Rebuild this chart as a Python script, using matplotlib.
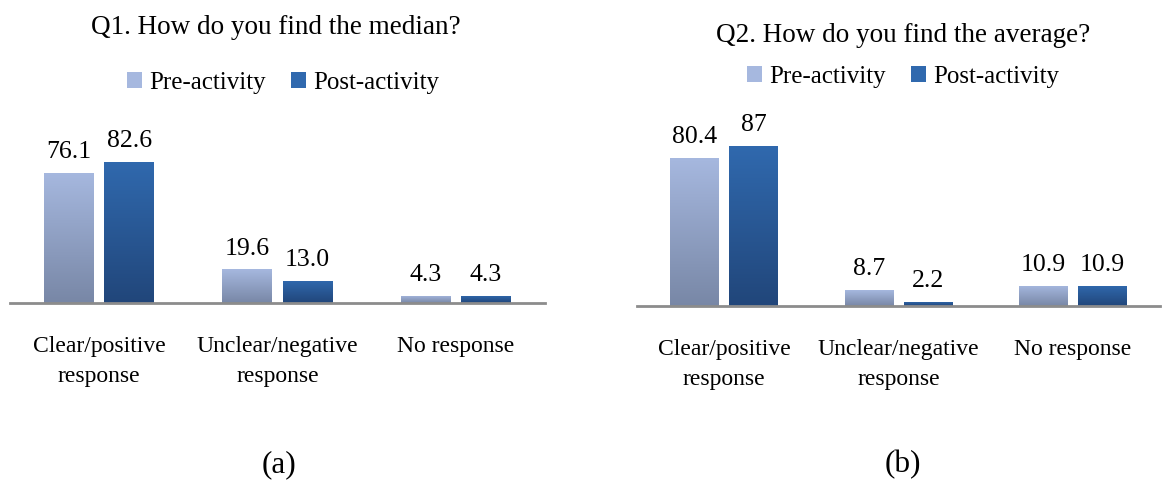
import numpy as np
import matplotlib
matplotlib.use("Agg")
import matplotlib.pyplot as plt
from matplotlib.colors import LinearSegmentedColormap
from matplotlib.patches import Patch

# =========================
# Data
# =========================
categories = ["Clear/positive\nresponse", "Unclear/negative\nresponse", "No response"]
series_names = ["Pre-activity", "Post-activity"]

q1_title = "Q1. How do you find the median?"
q1_pre = [76.1, 19.6, 4.3]
q1_post = [82.6, 13.0, 4.3]
q1_pre_labels = ["76.1", "19.6", "4.3"]
q1_post_labels = ["82.6", "13.0", "4.3"]

q2_title = "Q2. How do you find the average?"
q2_pre = [80.4, 8.7, 10.9]
q2_post = [87, 2.2, 10.9]
q2_pre_labels = ["80.4", "8.7", "10.9"]
q2_post_labels = ["87", "2.2", "10.9"]

panel_tags = ["(a)", "(b)"]

# =========================
# Style
# =========================
plt.rcParams["font.family"] = ["Liberation Serif", "DejaVu Serif"]
pre_top, pre_bottom = "#a6b8df", "#7887a6"
post_top, post_bottom = "#3069ae", "#21467a"
W, H = 1162, 483


def gradient_bars(ax, bars, top, bottom):
    # paint each bar with a vertical gradient clipped to the bar
    cmap = LinearSegmentedColormap.from_list("g", [bottom, top])
    grad = np.linspace(0, 1, 256).reshape(-1, 1)
    for b in bars:
        x0, y0 = b.get_x(), b.get_y()
        im = ax.imshow(grad, cmap=cmap, aspect="auto", origin="lower",
                       extent=[x0, x0 + b.get_width(), y0, y0 + b.get_height()],
                       zorder=b.get_zorder())
        im.set_clip_path(b)
        b.set_facecolor("none")


def draw_panel(rect_px, ymax, title, title_xy, legend_xy, pre, post, pre_lab, post_lab):
    left, bottom, right, top = rect_px
    ax = fig.add_axes([left / W, 1 - bottom / H, (right - left) / W, (bottom - top) / H])
    x = np.arange(len(categories))
    w = 0.28
    off = 0.169
    b1 = ax.bar(x - off, pre, w, color=pre_top, linewidth=0)
    b2 = ax.bar(x + off, post, w, color=post_top, linewidth=0)
    gradient_bars(ax, b1, pre_top, pre_bottom)
    gradient_bars(ax, b2, post_top, post_bottom)
    ax.bar_label(b1, labels=pre_lab, padding=7, fontsize=18.5)
    ax.bar_label(b2, labels=post_lab, padding=7, fontsize=18.5)
    ax.set_xlim(-0.5, 2.5)
    ax.set_ylim(0, ymax)
    for s in ["top", "left", "right"]:
        ax.spines[s].set_visible(False)
    ax.spines["bottom"].set_color("#8c8c8c")
    ax.spines["bottom"].set_linewidth(2)
    ax.set_yticks([])
    ax.set_xticks(x)
    ax.set_xticklabels(categories, fontsize=17, linespacing=1.55)
    ax.tick_params(axis="x", length=0, pad=24)
    fig.text(title_xy[0] / W, 1 - title_xy[1] / H, title, fontsize=19.5,
             ha="center", va="center")
    handles = [Patch(facecolor=pre_top), Patch(facecolor=post_top)]
    fig.legend(handles, series_names, loc="center",
               bbox_to_anchor=(legend_xy[0] / W, 1 - legend_xy[1] / H),
               ncol=2, frameon=False, fontsize=18, handlelength=0.6,
               handleheight=0.6, handletextpad=0.3, columnspacing=1.0)
    return ax


fig = plt.figure(figsize=(W / 100, H / 100), dpi=100)

draw_panel((10, 303, 545, 132), 100, q1_title, (276, 28), (283, 83),
           q1_pre, q1_post, q1_pre_labels, q1_post_labels)
draw_panel((637, 306, 1160, 135), 93, q2_title, (903, 35), (903, 77),
           q2_pre, q2_post, q2_pre_labels, q2_post_labels)

fig.text(279 / W, 1 - 465 / H, panel_tags[0], fontsize=22.5, ha="center", va="center")
fig.text(903 / W, 1 - 465 / H, panel_tags[1], fontsize=22.5, ha="center", va="center")

plt.savefig("out.png", dpi=100)
plt.close()
